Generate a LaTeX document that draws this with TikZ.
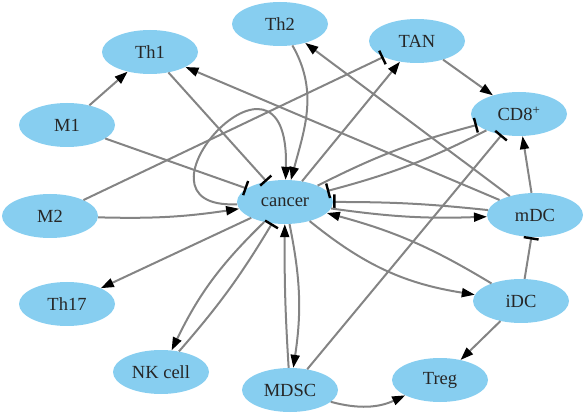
\documentclass[tikz,border=0pt]{standalone}
\usepackage{fontspec}
\setmainfont{Liberation Serif}
\usetikzlibrary{shapes.geometric, arrows.meta}
\definecolor{cellColor}{RGB}{135, 206, 240}
\definecolor{edgeColor}{RGB}{132, 132, 132}
\definecolor{tipColor}{RGB}{0, 0, 0}

\begin{document}
\begin{tikzpicture}[x=1pt, y=1pt,
    cell/.style={
        ellipse,
        fill=cellColor,
        minimum width=96pt,
        minimum height=44pt,
        inner sep=0pt,
        text=black!85,
        font=\fontsize{18.5}{22}\selectfont
    },
    act/.style={-{Triangle[length=13pt, width=9pt, tipColor]}, draw=edgeColor, line width=2pt},
    inh/.style={-{Bar[width=15pt, line width=2.4pt, tipColor]}, draw=edgeColor, line width=2pt}
]
    \useasboundingbox (0,0) rectangle (586,415);

    % Top row
    \node[cell] (th1) at (150,363) {Th1};
    \node[cell] (th2) at (280,391) {Th2};
    \node[cell] (tan) at (417,374) {TAN};
    \node[cell] (cd8) at (519,301) {CD8\textsuperscript{+}};
    \node[cell] (m1) at (67,290) {M1};

    % Middle row
    \node[cell] (m2) at (50,199) {M2};
    \node[cell] (cancer) at (285,213) {cancer};
    \node[cell] (mdc) at (535,200) {mDC};

    % Bottom row
    \node[cell] (th17) at (67,111) {Th17};
    \node[cell] (idc) at (521,114) {iDC};
    \node[cell] (nk) at (161,43) {NK cell};
    \node[cell] (mdsc) at (290,25) {MDSC};
    \node[cell] (treg) at (440,35) {Treg};

    % Straight connections
    \foreach \a/\b in {m1/th1, mdc/th1, mdc/th2, cancer/tan, tan/cd8, mdc/cd8, cancer/th17, idc/treg} {
        \draw[act] (\a) -- (\b);
    }
    \foreach \a/\b in {m1/cancer, th1/cancer, m2/tan, mdsc/cd8, idc/mdc} {
        \draw[inh] (\a) -- (\b);
    }

    % Bent connections
    \draw[act] (cancer) .. controls (115,205) and (290,400) .. (cancer);
    \draw[act] (th2) to[out=-60, in=75] (cancer);
    \draw[act] (m2) to[bend right=5] (cancer);
    \draw[inh] (cancer) to[bend left=6] (cd8);
    \draw[inh] (cd8) to[bend left=6] (cancer);
    \draw[inh] (mdc) to[bend right=3] (cancer);
    \draw[act] (cancer) to[bend right=5] (mdc);
    \draw[act] (idc) to[bend right=8] (cancer);
    \draw[act] (cancer) to[bend right=15] (idc);
    \draw[act] (mdsc) to[bend left=2] (cancer);
    \draw[act] (cancer) to[bend left=10] (mdsc);
    \draw[act] (cancer) to[bend right=10] (nk);
    \draw[inh] (nk) to[bend right=5] (cancer);
    \draw[act] (mdsc) to[bend right=20] (treg);

\end{tikzpicture}
\end{document}
